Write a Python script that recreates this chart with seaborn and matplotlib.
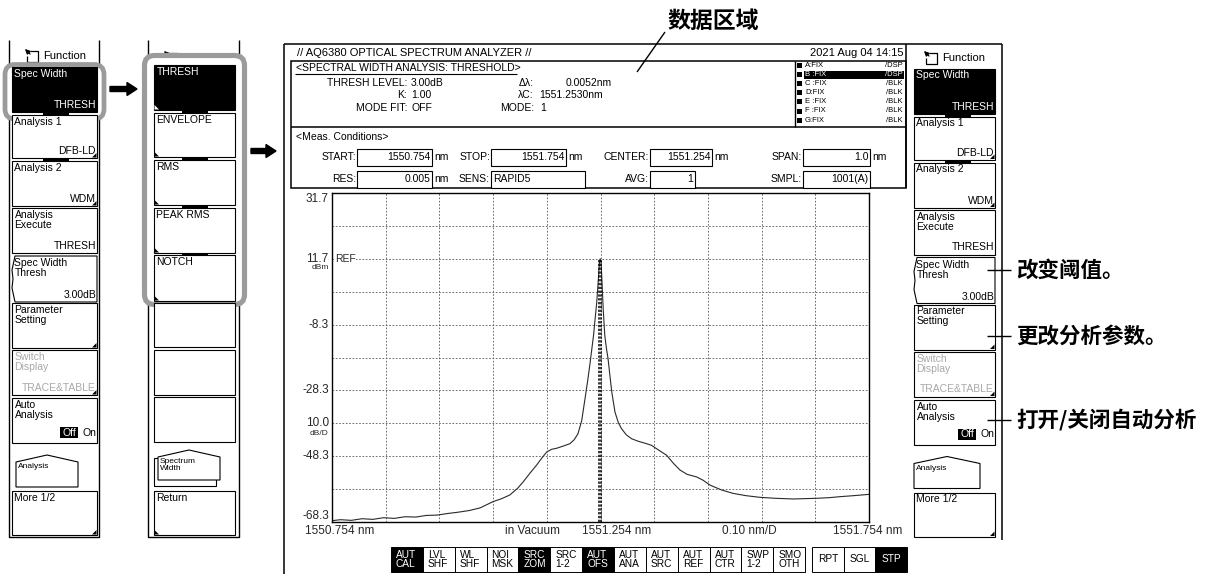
import numpy as np
import pandas as pd
import seaborn as sns
import matplotlib.pyplot as plt
from matplotlib.patches import Rectangle, FancyBboxPatch, Polygon

# Trace B: wavelength (nm) and level (dBm)
wavelength = [1550.754, 1550.770, 1550.790, 1550.810, 1550.830, 1550.850, 1550.870,
              1550.890, 1550.910, 1550.930, 1550.950, 1550.970, 1550.990, 1551.010,
              1551.030, 1551.054, 1551.070, 1551.085, 1551.100, 1551.110, 1551.122,
              1551.135, 1551.145, 1551.154, 1551.163, 1551.172, 1551.185, 1551.197,
              1551.205, 1551.212, 1551.219, 1551.225, 1551.230, 1551.234, 1551.238,
              1551.241, 1551.244, 1551.247, 1551.250, 1551.252, 1551.2535, 1551.255,
              1551.257, 1551.259, 1551.262, 1551.265, 1551.268, 1551.272, 1551.275,
              1551.281, 1551.287, 1551.293, 1551.302, 1551.312, 1551.325, 1551.338,
              1551.349, 1551.360, 1551.377, 1551.390, 1551.402, 1551.415, 1551.433,
              1551.445, 1551.458, 1551.480, 1551.501, 1551.525, 1551.551, 1551.580,
              1551.613, 1551.635, 1551.656, 1551.680, 1551.700, 1551.725, 1551.754]
level = [-67.9, -67.6, -67.8, -67.3, -67.5, -67.0, -67.2,
         -66.7, -66.8, -66.3, -66.2, -65.7, -65.3, -64.8,
         -64.0, -62.1, -61.2, -60.1, -58.0, -56.1, -53.6,
         -51.0, -48.8, -47.0, -46.2, -45.9, -45.2, -44.5,
         -43.3, -41.5, -37.5, -31.0, -25.5, -20.7, -15.5,
         -11.6, -6.5, -1.5, 5.5, 10.5, 11.7, 10.8,
         4.0, -3.5, -11.6, -15.5, -18.6, -24.5, -28.8,
         -34.9, -38.0, -39.9, -41.8, -43.0, -43.8, -44.4,
         -45.0, -46.2, -48.0, -50.5, -52.5, -53.8, -54.6,
         -55.6, -57.1, -58.6, -59.6, -60.3, -60.8, -61.1,
         -61.3, -61.2, -61.1, -60.9, -60.6, -60.3, -59.9]

start_nm, stop_nm = 1550.754, 1551.754
top_level, ref_level, bottom_level = 31.7, 11.7, -68.3
lambda_c, delta_lambda = 1551.2530, 0.0052

y_label_levels = [31.7, 11.7, -8.3, -28.3, -38.3, -48.3, -68.3]
y_label_texts = ['31.7', '11.7', '-8.3', '-28.3', '10.0', '-48.3', '-68.3']
x_label_texts = ['1550.754 nm', 'in Vacuum', '1551.254 nm', '0.10 nm/D', '1551.754 nm']

trace_names = ['A:FIX', 'B :FIX', 'C :FIX', 'D:FIX', 'E :FIX', 'F :FIX', 'G:FIX']
trace_modes = ['/DSP', '/DSP', '/BLK', '/BLK', '/BLK', '/BLK', '/BLK']

result_labels = ['THRESH LEVEL:', 'K:', 'MODE FIT:']
result_values = ['3.00dB', '1.00', 'OFF']

meas_labels = ['START:', 'STOP:', 'CENTER:', 'SPAN:', 'RES:', 'SENS:', 'AVG:', 'SMPL:']
meas_values = ['1550.754', '1551.754', '1551.254', '1.0', '0.005', 'RAPID5', '1', '1001(A)']
meas_units = ['nm', 'nm', 'nm', 'nm', 'nm', '', '', '']

status_keys = ['AUT\nCAL', 'LVL\nSHF', 'WL\nSHF', 'NOI\nMSK', 'SRC\nZOM', 'SRC\n1-2', 'AUT\nOFS',
               'AUT\nANA', 'AUT\nSRC', 'AUT\nREF', 'AUT\nCTR', 'SWP\n1-2', 'SMO\nOTH']
status_on = [True, False, False, False, True, False, True, False, False, False, False, False, False]
sweep_keys = ['RPT', 'SGL', 'STP']
sweep_on = [False, False, True]

menu_tops = ['Spec Width', 'Analysis 1', 'Analysis 2', 'Analysis\nExecute',
             'Spec Width\nThresh', 'Parameter\nSetting', 'Switch\nDisplay', 'Auto\nAnalysis']
menu_bottoms = ['THRESH', 'DFB-LD', 'WDM', 'THRESH', '3.00dB', '', 'TRACE&TABLE', '']
sub_menu = ['THRESH', 'ENVELOPE', 'RMS', 'PEAK RMS', 'NOTCH', '', '', '']
notes = ['改变阈值。', '更改分析参数。', '打开/关闭自动分析']

sns.set_style('white')
plt.rcParams['font.family'] = ['Liberation Sans', 'DejaVu Sans']
CJK = ['Noto Sans CJK SC', 'DejaVu Sans']

fig = plt.figure(figsize=(12.32, 5.74), dpi=100)
ui = fig.add_axes([0, 0, 1, 1], zorder=0)
ui.set_xlim(0, 1232)
ui.set_ylim(574, 0)
ui.axis('off')


def rect(x0, y0, x1, y1, fc='white', ec='black', lw=0.8, z=2):
    ui.add_patch(Rectangle((x0, y0), x1 - x0, y1 - y0, facecolor=fc, edgecolor=ec,
                           linewidth=lw, zorder=z))


def line(xs, ys, lw=0.9, color='black', z=3):
    ui.plot(xs, ys, color=color, linewidth=lw, zorder=z, solid_capstyle='butt')


def text(x, y, s, size=7.5, ha='left', va='center', color='black', z=4, **kw):
    ui.text(x, y, s, fontsize=size, ha=ha, va=va, color=color, zorder=z, **kw)


def softkey(x0, x1, y0, y1, top='', bottom='', black=False, grey=False, tri=None,
            brace=False, z=3):
    fc = 'black' if black else 'white'
    tc = 'white' if black else ('#a9a9a9' if grey else 'black')
    if brace:
        pts = [(x0 + 3, y0), (x1, y0), (x1, y1), (x0 + 3, y1), (x0, y1 - 14),
               (x0 + 1, (y0 + y1) / 2), (x0, y0 + 14)]
        ui.add_patch(Polygon(pts, closed=True, facecolor=fc, edgecolor='black',
                             linewidth=0.8, zorder=z))
    else:
        rect(x0, y0, x1, y1, fc=fc, z=z)
    if top:
        text(x0 + 2.5, y0 + 2, top, va='top', color=tc, z=z + 0.5, linespacing=1.0)
    if bottom:
        text(x1 - 1, y1 - 2, bottom, ha='right', va='bottom', color=tc, z=z + 0.5)
    if tri == 'right':
        ui.add_patch(Polygon([(x1 - 0.5, y1 - 0.5), (x1 - 5, y1 - 0.5), (x1 - 0.5, y1 - 5)],
                             facecolor='black', edgecolor='none', zorder=z + 0.5))
    elif tri == 'left':
        ui.add_patch(Polygon([(x0 + 0.5, y1 - 0.5), (x0 + 5, y1 - 0.5), (x0 + 0.5, y1 - 5)],
                             facecolor='white' if black else 'black', edgecolor='none',
                             zorder=z + 0.5))


def tab_key(x0, x1, y0, y1, label, shadow=False):
    if shadow:
        rect(x0 - 4, y0 + 8, x1 - 4, y1 + 6, z=3)
    xm = (x0 + x1) / 2
    ui.add_patch(Polygon([(x0, y1), (x0, y0 + 7), (xm, y0), (x1, y0 + 7), (x1, y1)],
                         closed=True, facecolor='white', edgecolor='black', linewidth=0.8,
                         zorder=3.5))
    text(x0 + 1.5, y0 + 8, label, size=6, va='top', linespacing=1.0, z=4)


def func_header(x, y):
    line([x + 7, x + 15, x + 15, x + 4, x + 4], [y - 4, y - 4, y + 7, y + 7, y + 1], lw=0.9, z=1.5)
    ui.annotate('', xy=(x, y - 8), xytext=(x + 9, y + 1), zorder=1.5,
                arrowprops=dict(arrowstyle='-|>', color='black', lw=0.9, mutation_scale=7))
    text(x + 20, y + 1, 'Function', size=8, z=1.5)


def highlight(x0, y0, x1, y1, lw=3.4, z=2.5):
    ui.add_patch(FancyBboxPatch((x0, y0), x1 - x0, y1 - y0,
                                boxstyle='round,pad=0,rounding_size=10', facecolor='white',
                                edgecolor='#9b9b9b', linewidth=lw, zorder=z))


def divider_tabs(xc, ys):
    for yb in ys:
        rect(xc - 13, yb - 1.5, xc + 13, yb + 1.5, fc='black', ec='none', z=6)


rows = [(67, 112), (115, 158), (161, 206), (208, 253), (256, 302), (303, 348),
        (350, 395), (398, 443)]
sub_rows = [(65, 110), (113, 157), (160, 205), (208, 253), (255, 301), (303, 347),
            (350, 395), (397, 442)]


def main_menu(x0, x1, dy, framed):
    for i, (ya, yb) in enumerate(rows):
        z = 6 if i == 0 else 3
        softkey(x0, x1, ya + dy, yb + dy, menu_tops[i], menu_bottoms[i], black=(i == 0),
                grey=(i == 6), tri='right' if i in (1, 2, 5, 6) else None,
                brace=(i == 4), z=z)
    ya, yb = rows[7]
    rect(x1 - 37, yb + dy - 16, x1 - 19, yb + dy - 5, fc='black', ec='none', z=4)
    text(x1 - 28, yb + dy - 10.5, 'Off', color='white', ha='center', z=5)
    text(x1 - 1, yb + dy - 10.5, 'On', ha='right', z=5)
    tab_key(x0 + 4 if framed else x0, x0 + 66, 455 + dy, 487 + dy, 'Analysis')
    softkey(x0, x1, 491 + dy, 535 + dy, 'More 1/2', tri='right')
    divider_tabs(x0 + 44, [113.5 + dy, 159.5 + dy])


# left function panel
line([9, 9, 99, 99], [40, 537, 537, 40], lw=1.0, z=1)
func_header(23, 55)
main_menu(12, 97, 0, True)
highlight(5, 64.5, 104, 119)

# sub-menu panel
line([148, 148, 239, 239], [40, 537, 537, 40], lw=1.0, z=1)
func_header(162, 57)
highlight(144.5, 55.5, 244.5, 304.5, lw=3.7)
for i, (ya, yb) in enumerate(sub_rows):
    softkey(154, 235, ya, yb, sub_menu[i], black=(i == 0),
            tri='left' if i < 5 else None, z=4)
divider_tabs(195, [111.5, 158.5, 206.5, 254])
tab_key(158, 220, 450, 480, 'Spectrum\nWidth', shadow=True)
softkey(154, 235, 491, 535, 'Return', tri='left')

# arrows between panels
ui.arrow(110, 89, 27, 0, width=5, head_width=13, head_length=10, length_includes_head=True,
         color='black', zorder=5)
ui.arrow(251, 151, 25, 0, width=5, head_width=13, head_length=10, length_includes_head=True,
         color='black', zorder=5)

# analyzer screen frame
line([284, 1002], [44, 44], lw=1.1)
line([284, 284], [44, 574], lw=1.1)
line([1002, 1002], [44, 540], lw=1.1)
line([906, 906], [44, 188], lw=1.1)
rect(291, 61, 906, 188, fc='none', lw=1.1, z=3)
line([291, 906], [127, 127], lw=1.1)
line([795, 795], [61, 127], lw=1.0)
text(297, 52.5, '// AQ6380 OPTICAL SPECTRUM ANALYZER //', size=8)
text(903, 52.5, '2021 Aug 04 14:15', size=8, ha='right')

# analysis result block
text(296, 68, '<SPECTRAL WIDTH ANALYSIS: THRESHOLD>')
line([295, 517], [73.5, 73.5], lw=0.8)
for i, (lab, val) in enumerate(zip(result_labels, result_values)):
    yy = 83 + 12.5 * i
    text(407, yy, lab, ha='right')
    text(411, yy, val)
text(534, 83, 'Δλ:', ha='right')
text(612, 83, '%.4fnm' % delta_lambda, ha='right')
text(534, 95.5, 'λC:', ha='right')
text(539, 95.5, '%.4fnm' % lambda_c)
text(534, 108, 'MODE:', ha='right')
text(540, 108, '1')

# trace table
for i, (nm, md) in enumerate(zip(trace_names, trace_modes)):
    yy = 65.5 + 9.1 * i
    rect(797, yy - 2.5, 802, yy + 2.5, fc='black', ec='none', z=4)
    if i == 1:
        rect(803.5, yy - 4, 904, yy + 4, fc='black', ec='none', z=4)
    c = 'white' if i == 1 else 'black'
    text(805, yy, nm, size=5.5, color=c, z=5)
    text(903, yy, md, size=5.5, ha='right', color=c, z=5)

# measurement conditions
text(296, 137.5, '<Meas. Conditions>')
label_right = [356, 490, 649, 802]
box_right = [432, 566, 712, 870]
for i, (lab, val, unit) in enumerate(zip(meas_labels, meas_values, meas_units)):
    col, row = i % 4, i // 4
    yc = 157.5 if row == 0 else 179.5
    xr = box_right[col]
    if lab == 'SENS:':
        xr = 585
    if lab == 'AVG:':
        xr = 695
    x0 = label_right[col] + 1
    rect(x0, yc - 8.5, xr, yc + 8.5, fc='white', lw=0.8, z=3)
    text(label_right[col], yc, lab, ha='right')
    if lab == 'SENS:':
        text(x0 + 2, yc, val)
    else:
        text(xr - 1.5, yc, val, ha='right')
    if unit:
        text(xr + 2, yc, unit)

# right function panel
func_header(922, 57)
main_menu(914, 995, 1.5, False)

# annotations
line([665, 637], [32, 72], lw=1.0, z=6)
text(713, 21, '数据区域', size=16.5, ha='center', family=CJK, fontweight='bold')
for yy, note in zip([270, 336, 420], notes):
    line([987, 1011], [yy, yy], lw=1.0)
    text(1016, yy, note, size=15.5, family=CJK, fontweight='bold')

# soft status keys
kx = 391
for name, on in zip(status_keys, status_on):
    rect(kx, 547, kx + 31.85, 572, fc='black' if on else 'white', lw=0.7)
    text(kx + 5, 559.5, name, size=7.3, color='white' if on else 'black', linespacing=0.85)
    kx += 31.85
kx = 812
for name, on in zip(sweep_keys, sweep_on):
    rect(kx, 547, kx + 31.7, 572, fc='black' if on else 'white', lw=0.7)
    text(kx + 15.85, 559.5, name, size=7.3, ha='center', color='white' if on else 'black')
    kx += 31.7

# spectrum trace
ax = fig.add_axes([332 / 1232, 52 / 574, 537 / 1232, 329 / 574], zorder=1)
df = pd.DataFrame({'wavelength': wavelength, 'level': level})
sns.lineplot(data=df, x='wavelength', y='level', ax=ax, color='#2a2a2a', linewidth=0.8,
             estimator=None)
ax.vlines([lambda_c - delta_lambda / 2, lambda_c + delta_lambda / 2], bottom_level, ref_level,
          colors='black', linestyles=(0, (1.5, 1)), linewidth=1.1, zorder=3)
ax.set_xlim(start_nm, stop_nm)
ax.set_ylim(bottom_level, top_level)
ax.set_xticks(np.linspace(start_nm, stop_nm, 11))
ax.set_yticks(np.linspace(bottom_level, top_level, 11))
ax.tick_params(length=0, labelbottom=False, labelleft=False)
ax.grid(True, color='#555555', linestyle=(0, (2, 2)), linewidth=0.6)
ax.set_xlabel('')
ax.set_ylabel('')
for s in ax.spines.values():
    s.set_color('black')
    s.set_linewidth(1.0)

ytr = ax.get_yaxis_transform()
for v, lab in zip(y_label_levels, y_label_texts):
    va = 'top' if v == top_level else ('bottom' if v == bottom_level else 'center')
    ax.text(-0.006, v, lab, transform=ytr, ha='right', va=va, fontsize=8.5)
ax.annotate('dBm', xy=(-0.006, ref_level), xycoords=ytr, xytext=(0, -9),
            textcoords='offset pixels', ha='right', va='center', fontsize=6)
ax.annotate('dB/D', xy=(-0.006, -38.3), xycoords=ytr, xytext=(0, -10),
            textcoords='offset pixels', ha='right', va='center', fontsize=6)
ax.text(0.005, ref_level, 'REF', transform=ytr, ha='left', va='center', fontsize=7.5,
        bbox=dict(facecolor='white', edgecolor='none', pad=0.3))

x_pos = [-0.050, 0.4246, 0.4655, 0.726, 1.0615]
x_ha = ['left', 'right', 'left', 'left', 'right']
for xp, lab, ha in zip(x_pos, x_label_texts, x_ha):
    ax.text(xp, -0.008, lab, transform=ax.transAxes, ha=ha, va='top', fontsize=8.5,
            clip_on=False)

fig.savefig('out.png', dpi=100)
